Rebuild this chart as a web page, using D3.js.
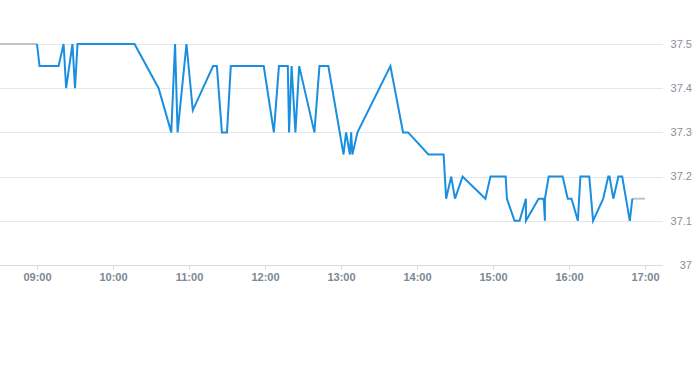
<!DOCTYPE html>
<html>
<head>
<meta charset="utf-8">
<script src="https://cdn.jsdelivr.net/npm/d3@7"></script>
<style>
  body { margin: 0; background: #fff; }
  svg { display: block; font-family: "Liberation Sans", Arial, sans-serif; }
</style>
</head>
<body>
<svg id="chart" width="693" height="365"></svg>
<script>
const times = ['09:00', '09:02', '09:17', '09:21', '09:23', '09:28', '09:30', '09:32', '10:17', '10:36',
  '10:46', '10:49', '10:51', '10:58', '11:03', '11:19', '11:22', '11:26', '11:30', '11:33',
  '11:59', '12:07', '12:11', '12:18', '12:19', '12:21', '12:24', '12:27', '12:39', '12:43',
  '12:50', '13:02', '13:04', '13:07', '13:08', '13:09', '13:13', '13:39', '13:49', '13:53',
  '14:09', '14:21', '14:23', '14:27', '14:30', '14:36', '14:54', '14:58', '15:10', '15:11',
  '15:17', '15:21', '15:26', '15:26', '15:36', '15:40', '15:41', '15:41', '15:44', '15:55',
  '15:59', '16:02', '16:07', '16:09', '16:16', '16:19', '16:27', '16:31', '16:32', '16:35',
  '16:39', '16:42', '16:48', '16:50'];
const values = [37.5, 37.45, 37.45, 37.5, 37.4, 37.5, 37.4, 37.5, 37.5, 37.4,
  37.3, 37.5, 37.3, 37.5, 37.35, 37.45, 37.45, 37.3, 37.3, 37.45,
  37.45, 37.3, 37.45, 37.45, 37.3, 37.45, 37.3, 37.45, 37.3, 37.45,
  37.45, 37.25, 37.3, 37.25, 37.3, 37.25, 37.3, 37.45, 37.3, 37.3,
  37.25, 37.25, 37.15, 37.2, 37.15, 37.2, 37.15, 37.2, 37.2, 37.15,
  37.1, 37.1, 37.15, 37.1, 37.15, 37.15, 37.1, 37.15, 37.2, 37.2,
  37.15, 37.15, 37.1, 37.2, 37.2, 37.1, 37.15, 37.2, 37.2, 37.15,
  37.2, 37.2, 37.1, 37.15];

// grey stretches before the open and after the last trade
const preTimes = ['08:30', '09:00'];
const preValues = [37.5, 37.5];
const postTimes = ['16:50', '17:00'];
const postValues = [37.15, 37.15];

const timeTicks = ['09:00', '10:00', '11:00', '12:00', '13:00', '14:00', '15:00', '16:00', '17:00'];
const priceTicks = [37, 37.1, 37.2, 37.3, 37.4, 37.5];

const parse = d3.timeParse('%H:%M');
const zip = (ts, vs) => ts.map((t, i) => ({ t: parse(t), v: vs[i] }));

const plotRight = 663;
const svg = d3.select('#chart');

const x = d3.scaleTime()
  .domain([parse('09:00'), parse('17:00')])
  .range([37, 645]);
const y = d3.scaleLinear()
  .domain([37, 37.5])
  .range([265, 44]);

svg.append('defs').append('clipPath').attr('id', 'plot')
  .append('rect').attr('x', 0).attr('y', 0).attr('width', plotRight).attr('height', 300);

// horizontal grid
svg.append('g')
  .selectAll('line')
  .data(priceTicks.filter((d) => d > 37))
  .enter()
  .append('line')
  .attr('x1', 0)
  .attr('x2', plotRight)
  .attr('y1', (d) => Math.round(y(d)) + 0.5)
  .attr('y2', (d) => Math.round(y(d)) + 0.5)
  .attr('stroke', '#e3e6ea');

// price labels on the right
svg.append('g')
  .selectAll('text')
  .data(priceTicks)
  .enter()
  .append('text')
  .attr('x', 692)
  .attr('y', (d) => y(d))
  .attr('dy', '0.35em')
  .attr('text-anchor', 'end')
  .attr('fill', '#87909a')
  .attr('font-size', 11)
  .text((d) => d3.format('~g')(d));

// time axis
const xAxis = d3.axisBottom(x)
  .tickValues(timeTicks.map(parse))
  .tickFormat(d3.timeFormat('%H:%M'))
  .tickSize(4)
  .tickPadding(4);

const axisG = svg.append('g')
  .attr('transform', 'translate(0,265.5)')
  .call(xAxis);
axisG.select('.domain').remove();
axisG.insert('line', ':first-child')
  .attr('x1', 0)
  .attr('x2', plotRight)
  .attr('stroke', '#d9dde2');
axisG.selectAll('.tick line').attr('stroke', '#d9dde2');
axisG.selectAll('.tick text')
  .attr('fill', '#7d8894')
  .attr('font-size', 11)
  .attr('font-weight', 'bold')
  .attr('font-family', '"Liberation Sans", Arial, sans-serif');

const line = d3.line()
  .x((d) => x(d.t))
  .y((d) => y(d.v));

const lines = svg.append('g').attr('clip-path', 'url(#plot)');

lines.selectAll('path.grey')
  .data([zip(preTimes, preValues), zip(postTimes, postValues)])
  .enter()
  .append('path')
  .attr('class', 'grey')
  .attr('d', line)
  .attr('fill', 'none')
  .attr('stroke', '#bcc4cc')
  .attr('stroke-width', 2);

lines.append('path')
  .datum(zip(times, values))
  .attr('d', line)
  .attr('fill', 'none')
  .attr('stroke', '#1a8fe0')
  .attr('stroke-width', 2)
  .attr('stroke-linejoin', 'miter');
</script>
</body>
</html>
